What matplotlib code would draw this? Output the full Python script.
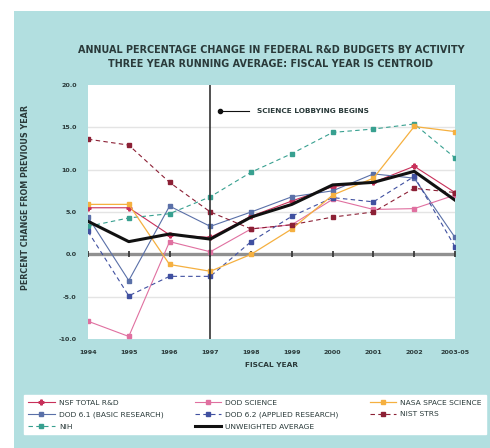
import matplotlib.pyplot as plt
from matplotlib.patches import Rectangle

YEARS = ["1994", "1995", "1996", "1997", "1998", "1999", "2000", "2001", "2002", "2003-05"]

nsf_total = [5.5, 5.5, 2.3, 2.0, 4.5, 6.3, 8.0, 8.5, 10.4, 7.3]
dod_science = [-7.9, -9.7, 1.5, 0.3, 3.0, 3.5, 6.5, 5.3, 5.4, 7.0]
nasa_space = [5.9, 5.9, -1.2, -2.0, 0.0, 3.0, 7.0, 9.0, 15.1, 14.5]
dod_61 = [4.4, -3.1, 5.7, 3.3, 5.0, 6.8, 7.5, 9.5, 9.0, 2.0]
dod_62 = [2.7, -4.9, -2.6, -2.6, 1.5, 4.5, 6.7, 6.2, 9.2, 0.9]
nist_strs = [13.6, 12.9, 8.5, 5.0, 3.0, 3.5, 4.4, 5.0, 7.8, 7.3]
nih = [3.3, 4.3, 4.8, 6.8, 9.7, 11.9, 14.4, 14.8, 15.4, 11.4]
unweighted_avg = [3.9, 1.5, 2.4, 1.8, 4.4, 5.9, 8.2, 8.5, 9.8, 6.4]

LOBBY_YEAR = 3  # index of 1997

BG = "#b2dfe0"
DARK = "#2a3a3a"

fig = plt.figure(figsize=(4.9, 4.48), dpi=100)
fig.patches.append(Rectangle((14 / 490, 0), 1, 1 - 11 / 448, transform=fig.transFigure,
                             facecolor=BG, edgecolor="none", zorder=-10))

ax = fig.add_axes([88 / 490, 1 - 339 / 448, (455 - 88) / 490, (339 - 85) / 448])
ax.set_facecolor("white")
for s in ax.spines.values():
    s.set_visible(False)

x = list(range(len(YEARS)))

for v in (-5, 5, 10, 15):
    ax.axhline(v, color="#e4e4e4", lw=1.0, zorder=0)
ax.axhline(0, color="#909090", lw=2.4, zorder=1)
ax.plot(x, [0] * len(x), ls="none", marker="|", ms=5, mew=1.2, color="#303030", zorder=2)

series = [
    ("NSF TOTAL R&D", nsf_total, dict(color="#c8305a", ls="-", marker="P", ms=3.5, lw=0.8)),
    ("DOD 6.1 (BASIC RESEARCH)", dod_61, dict(color="#5a70a8", ls="-", marker="s", ms=3, lw=0.8)),
    ("NIH", nih, dict(color="#38a090", ls=(0, (4, 3)), marker="s", ms=3, lw=0.8)),
    ("DOD SCIENCE", dod_science, dict(color="#e070a0", ls="-", marker="s", ms=3, lw=0.8)),
    ("DOD 6.2 (APPLIED RESEARCH)", dod_62, dict(color="#4050a0", ls=(0, (4, 3)), marker="s", ms=3, lw=0.8)),
    ("UNWEIGHTED AVERAGE", unweighted_avg, dict(color="#111111", ls="-", marker=None, lw=2.2)),
    ("NASA SPACE SCIENCE", nasa_space, dict(color="#f5b040", ls="-", marker="s", ms=3, lw=0.9)),
    ("NIST STRS", nist_strs, dict(color="#8c2035", ls=(0, (4, 3)), marker="s", ms=3, lw=0.8)),
]
handles = []
for name, vals, style in series:
    z = 5 if name == "UNWEIGHTED AVERAGE" else 3
    h, = ax.plot(x, vals, label=name, zorder=z, **style)
    handles.append(h)

ax.axvline(LOBBY_YEAR, color="#333333", lw=1.2, zorder=4)
ax.plot([LOBBY_YEAR + 0.23, LOBBY_YEAR + 0.95], [16.9, 16.9], color="#111111", lw=0.8, zorder=4)
ax.plot(LOBBY_YEAR + 0.23, 16.9, "o", color="#111111", ms=3, zorder=4)
ax.text(LOBBY_YEAR + 1.15, 16.9, "SCIENCE LOBBYING BEGINS", fontsize=5.3, fontweight="bold",
        color=DARK, va="center")

ax.set_xlim(0, len(YEARS) - 1)
ax.set_ylim(-10, 20)
ax.set_yticks(range(-10, 21, 5))
ax.set_yticklabels([f"{v:.1f}" for v in range(-10, 21, 5)])
ax.set_xticks(x)
ax.set_xticklabels(YEARS)
ax.tick_params(length=0, labelsize=4.6, labelcolor=DARK, pad=8)
for t in ax.get_xticklabels() + ax.get_yticklabels():
    t.set_fontweight("bold")

ax.set_xlabel("FISCAL YEAR", fontsize=5.3, fontweight="bold", color=DARK, labelpad=5)
fig.text(25 / 490, 1 - 197 / 448, "PERCENT CHANGE FROM PREVIOUS YEAR", rotation=90,
         fontsize=5.8, fontweight="bold", color=DARK, ha="center", va="center")

fig.text(271 / 490, 1 - 50 / 448, "ANNUAL PERCENTAGE CHANGE IN FEDERAL R&D BUDGETS BY ACTIVITY",
         fontsize=6.9, fontweight="bold", color=DARK, ha="center", va="center")
fig.text(271 / 490, 1 - 64 / 448, "THREE YEAR RUNNING AVERAGE: FISCAL YEAR IS CENTROID",
         fontsize=6.9, fontweight="bold", color=DARK, ha="center", va="center")

leg = fig.legend(handles=handles, ncol=3, loc="lower left",
                 bbox_to_anchor=(20 / 490, 10 / 448, 1 - 20 / 490, 43 / 448),
                 mode="expand", fontsize=5.4, frameon=True, fancybox=False, framealpha=1,
                 handlelength=3.5, handletextpad=0.6, borderpad=0.6,
                 labelspacing=0.75, columnspacing=1.0)
leg.get_frame().set_facecolor("white")
leg.get_frame().set_edgecolor("white")
for t in leg.get_texts():
    t.set_color(DARK)

fig.savefig("out.png", dpi=100)
